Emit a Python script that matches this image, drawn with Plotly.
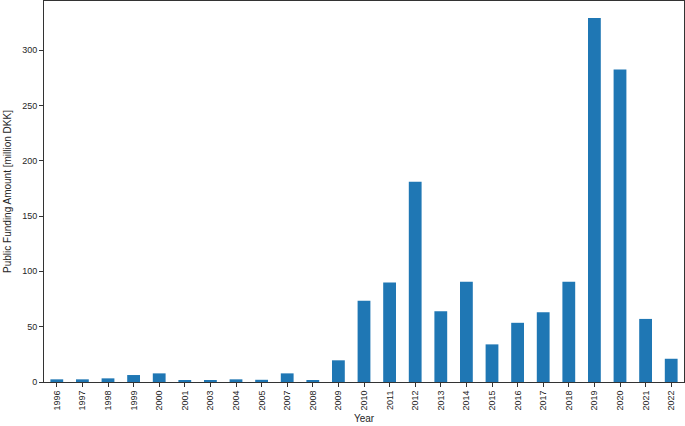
import plotly.graph_objects as go

years = ["1996", "1997", "1998", "1999", "2000", "2001", "2003", "2004", "2005", "2007",
         "2008", "2009", "2010", "2011", "2012", "2013", "2014", "2015", "2016", "2017",
         "2018", "2019", "2020", "2021", "2022"]
funding = [2.4, 2.4, 3.3, 6.3, 7.8, 1.2, 1.0, 2.4, 2.0, 7.8,
           1.7, 19.6, 73.5, 90.0, 181.0, 64.0, 90.5, 34.0, 53.5, 63.0,
           90.5, 329.0, 282.5, 57.0, 21.0]
y_ticks = [0, 50, 100, 150, 200, 250, 300]

font_family = "Liberation Sans, Arial, sans-serif"
axis_color = "#333333"

fig = go.Figure(go.Bar(x=years, y=funding, marker_color="#1f77b4",
                       marker_line_width=0))

fig.update_layout(
    width=685, height=426,
    margin=dict(l=44, r=1, t=1, b=44),
    plot_bgcolor="white", paper_bgcolor="white",
    bargap=0.5, showlegend=False,
    font=dict(family=font_family, size=9, color="#262626"),
)
fig.update_xaxes(
    type="category", range=[-0.5, len(years) - 0.5],
    showline=True, linecolor=axis_color, linewidth=1, mirror=True,
    ticks="outside", ticklen=4, tickcolor=axis_color, tickangle=-90,
    showgrid=False, tickfont=dict(size=9),
    title=dict(text="Year", font=dict(size=10), standoff=5),
)
fig.update_yaxes(
    range=[0, 344.3], tickvals=y_ticks,
    showline=True, linecolor=axis_color, linewidth=1, mirror=True,
    ticks="outside", ticklen=4, tickcolor=axis_color,
    showgrid=False, zeroline=False, tickfont=dict(size=9),
    title=dict(text="Public Funding Amount [million DKK]", font=dict(size=10), standoff=8),
)

fig.write_html("out.html", config={"displayModeBar": False},
               post_script="document.body.style.margin='0';document.body.style.overflow='hidden';")
